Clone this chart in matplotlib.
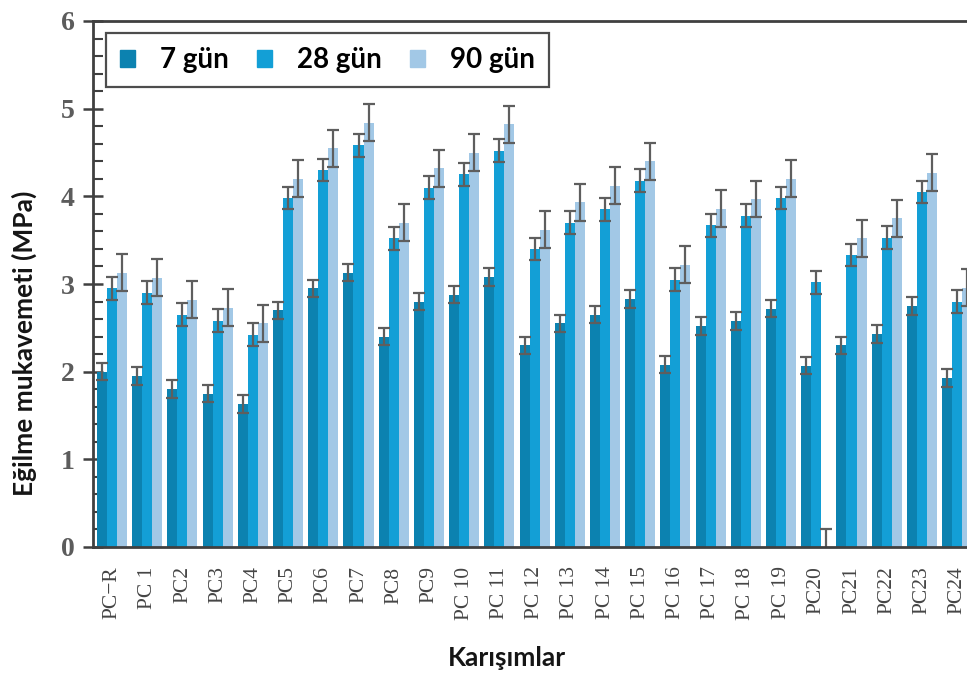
import matplotlib
matplotlib.use("Agg")
import matplotlib.pyplot as plt
from matplotlib.patches import Patch
from matplotlib.ticker import MultipleLocator
import numpy as np

# mixture names and flexural strength (MPa) per curing age
mixes = ["PC\u2212R", "PC 1", "PC2", "PC3", "PC4", "PC5", "PC6", "PC7", "PC8", "PC9",
         "PC 10", "PC 11", "PC 12", "PC 13", "PC 14", "PC 15", "PC 16", "PC 17",
         "PC 18", "PC 19", "PC20", "PC21", "PC22", "PC23", "PC24"]
day7 = [2.00, 1.95, 1.80, 1.75, 1.63, 2.70, 2.95, 3.13, 2.40, 2.80, 2.88, 3.08, 2.30,
        2.55, 2.65, 2.83, 2.08, 2.52, 2.58, 2.72, 2.07, 2.30, 2.43, 2.75, 1.93]
day28 = [2.95, 2.90, 2.65, 2.58, 2.42, 3.98, 4.30, 4.58, 3.52, 4.10, 4.25, 4.52, 3.40,
         3.70, 3.85, 4.18, 3.05, 3.67, 3.78, 3.98, 3.02, 3.33, 3.53, 4.05, 2.80]
day90 = [3.13, 3.07, 2.82, 2.73, 2.55, 4.20, 4.55, 4.84, 3.70, 4.32, 4.50, 4.82, 3.62,
         3.93, 4.12, 4.40, 3.22, 3.86, 3.97, 4.20, 0.00, 3.52, 3.75, 4.27, 2.96]
err7 = [0.10] * 25
err28 = [0.13] * 25
err90 = [0.21] * 25
series = ["7 g\u00fcn", "28 g\u00fcn", "90 g\u00fcn"]
colors = ["#0c82b0", "#139fd6", "#a2c8e6"]

sans = ["Lato", "DejaVu Sans"]
serif = ["Liberation Serif", "DejaVu Serif"]

fig = plt.figure(figsize=(9.67, 6.76), dpi=100)
ax = fig.add_axes([93 / 967, 1 - 547 / 676, 874 / 967, 526 / 676])

x = np.arange(len(mixes))
w = 0.285
ekw = dict(ecolor="#5e5e5e", elinewidth=1.6, capsize=4.3, capthick=1.6)
for off, vals, errs, c in zip([-w, 0, w], [day7, day28, day90], [err7, err28, err90], colors):
    ax.bar(x + off, vals, w, color=c, yerr=errs, error_kw=ekw, zorder=2)

ax.set_xlim(-0.54, 24.28)
ax.set_ylim(0, 6)
ax.set_xticks(x)
ax.set_xticklabels(mixes, rotation=90, family=serif, fontsize=15.5, color="#454545")
ax.yaxis.set_major_locator(MultipleLocator(1))
ax.yaxis.set_minor_locator(MultipleLocator(0.2))
for lab in ax.get_yticklabels():
    lab.set_family(serif)
    lab.set_fontweight("bold")
ax.tick_params(axis="y", which="major", direction="inout", length=14, width=1.8,
               color="#404040", labelsize=20, labelcolor="#5c5c5c", pad=6)
ax.tick_params(axis="y", which="minor", direction="in", length=7, width=1.5, color="#404040")
ax.tick_params(axis="x", direction="in", length=6, width=1.8, color="#111111", pad=14)
for s in ["left", "top", "bottom"]:
    ax.spines[s].set_linewidth(2)
    ax.spines[s].set_color("#404040")
ax.spines["right"].set_visible(False)

handles = [Patch(color=c, label=s) for c, s in zip(colors, series)]
leg = ax.legend(handles=handles, loc="upper left", bbox_to_anchor=(0.0149, 0.977), ncol=3,
                frameon=True, fancybox=False, handlelength=0.55, handleheight=0.55,
                handletextpad=0.9, columnspacing=1.0, borderpad=0.5, borderaxespad=0,
                prop={"family": sans, "weight": "bold", "size": 20})
leg.get_frame().set_edgecolor("#202020")
leg.get_frame().set_linewidth(1.6)

fig.text(24 / 967, 1 - 343 / 676, "E\u011filme mukavemeti (MPa)", rotation=90,
         ha="center", va="center", family=sans, weight="bold", fontsize=19, color="#151515")
fig.text(507 / 967, 1 - 658 / 676, "Kar\u0131\u015f\u0131mlar", ha="center", va="center",
         family=sans, weight="bold", fontsize=19, color="#151515")

fig.savefig("out.png", dpi=100)
